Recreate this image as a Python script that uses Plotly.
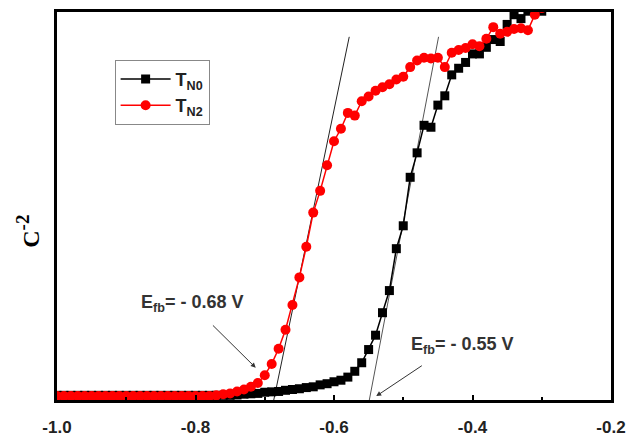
import plotly.graph_objects as go

voltage = [-1.00, -0.99, -0.98, -0.97, -0.96, -0.95, -0.94, -0.93, -0.92, -0.91,
           -0.90, -0.89, -0.88, -0.87, -0.86, -0.85, -0.84, -0.83, -0.82, -0.81,
           -0.80, -0.79, -0.78, -0.77, -0.76, -0.75, -0.74, -0.73, -0.72, -0.71,
           -0.70, -0.69, -0.68, -0.67, -0.66, -0.65, -0.64, -0.63, -0.62, -0.61,
           -0.60, -0.59, -0.58, -0.57, -0.56, -0.55, -0.54, -0.53, -0.52, -0.51,
           -0.50, -0.49, -0.48, -0.47, -0.46, -0.45, -0.44, -0.43, -0.42, -0.41,
           -0.40, -0.39, -0.38, -0.37, -0.36, -0.35, -0.34, -0.33, -0.32, -0.31,
           -0.30]

tn0 = [0.012] * 26 + [
    0.013, 0.015, 0.016, 0.017, 0.020, 0.021, 0.022, 0.025, 0.027, 0.029,
    0.032, 0.034, 0.039, 0.042, 0.047, 0.051, 0.059, 0.074, 0.096, 0.130,
    0.167, 0.225, 0.282, 0.390, 0.449, 0.574, 0.637, 0.708, 0.703, 0.760,
    0.784, 0.838, 0.855, 0.870, 0.892, 0.892, 0.909, 0.929, 0.924, 0.968,
    0.993, 0.983, 1.002, 1.010, 1.002]

tn2 = [0.010] * 23 + [
    0.012, 0.015, 0.017, 0.022, 0.027, 0.034, 0.044, 0.064, 0.093, 0.132,
    0.181, 0.245, 0.316, 0.395, 0.483, 0.539, 0.605, 0.667, 0.699, 0.740,
    0.733, 0.770, 0.782, 0.797, 0.806, 0.814, 0.826, 0.833, 0.858, 0.875,
    0.882, 0.880, 0.882, 0.858, 0.895, 0.902, 0.907, 0.917, 0.912, 0.931,
    0.961, 0.944, 0.949, 0.956, 0.958, 0.953, 0.993, 1.010]

fit_n2_x = [-0.687, -0.578]
fit_n2_y = [0.0, 0.936]
fit_n0_x = [-0.549, -0.449]
fit_n0_y = [0.0, 0.936]

x_ticks = [-1.0, -0.8, -0.6, -0.4, -0.2]
x_tick_labels = ["-1.0", "-0.8", "-0.6", "-0.4", "-0.2"]

label_n2 = "<b>E<sub>fb</sub>= - 0.68 V</b>"
label_n0 = "<b>E<sub>fb</sub>= - 0.55 V</b>"

fig = go.Figure()

fig.add_trace(go.Scatter(x=fit_n2_x, y=fit_n2_y, mode="lines",
                         line=dict(color="#222222", width=1), showlegend=False,
                         hoverinfo="skip"))
fig.add_trace(go.Scatter(x=fit_n0_x, y=fit_n0_y, mode="lines",
                         line=dict(color="#555555", width=1), showlegend=False,
                         hoverinfo="skip"))

fig.add_trace(go.Scatter(x=voltage, y=tn0, mode="lines+markers", name="<b>T<sub>N0</sub></b>",
                         legendgroup="n0",
                         line=dict(color="black", width=1.5),
                         marker=dict(symbol="square", size=9, color="black")))
fig.add_trace(go.Scatter(x=voltage, y=tn2, mode="lines+markers", name="<b>T<sub>N2</sub></b>",
                         legendgroup="n2",
                         line=dict(color="red", width=1.5),
                         marker=dict(symbol="circle", size=10, color="red")))

fig.add_annotation(x=-0.881, y=0.250, xref="x", yref="y", text=label_n2,
                   showarrow=False, xanchor="left", yanchor="middle",
                   font=dict(family="Liberation Sans", size=18, color="#333333"))
fig.add_annotation(x=-0.491, y=0.140, xref="x", yref="y", text=label_n0,
                   showarrow=False, xanchor="left", yanchor="middle",
                   font=dict(family="Liberation Sans", size=18, color="#333333"))

fig.add_annotation(x=-0.713, y=0.083, ax=-0.777, ay=0.196, xref="x", yref="y",
                   axref="x", ayref="y", text="", showarrow=True, arrowhead=2,
                   arrowsize=1, arrowwidth=1, arrowcolor="#333333")
fig.add_annotation(x=-0.539, y=0.010, ax=-0.471, ay=0.091, xref="x", yref="y",
                   axref="x", ayref="y", text="", showarrow=True, arrowhead=2,
                   arrowsize=1, arrowwidth=1, arrowcolor="#333333")

fig.add_annotation(x=-0.085, y=0.436, xref="paper", yref="paper",
                   text="<b>C<sup><span style='font-size:19px'>-2</span></sup></b>",
                   textangle=-90, showarrow=False,
                   font=dict(family="Liberation Serif", size=24, color="black"))

fig.update_layout(
    width=635, height=446,
    margin=dict(l=57, r=18, t=9, b=29),
    paper_bgcolor="white", plot_bgcolor="white",
    font=dict(family="Liberation Sans", color="#222222"),
    showlegend=True,
    legend=dict(x=0.104, y=0.877, xanchor="left", yanchor="top",
                bordercolor="#888888", borderwidth=1, tracegroupgap=0,
                itemwidth=50,
                font=dict(family="Liberation Sans", size=18, color="#222222"),
                bgcolor="white"),
    xaxis=dict(range=[-1.0, -0.2], tickvals=x_ticks, ticktext=["<b>%s</b>" % t for t in x_tick_labels],
               ticks="inside", ticklen=5, tickwidth=1.5, tickcolor="black",
               ticklabelstandoff=10,
               minor=dict(ticks="inside", ticklen=3, tickwidth=1.5, tickcolor="black",
                          dtick=0.1, tick0=-1.0),
               showline=True, linecolor="black", linewidth=2.5, mirror=True,
               showgrid=False, zeroline=False,
               tickfont=dict(family="Liberation Sans", size=17, color="#222222")),
    yaxis=dict(range=[0, 1], showticklabels=False, ticks="",
               showline=True, linecolor="black", linewidth=2.5, mirror=True,
               showgrid=False, zeroline=False),
)

fig.write_html("out.html")
